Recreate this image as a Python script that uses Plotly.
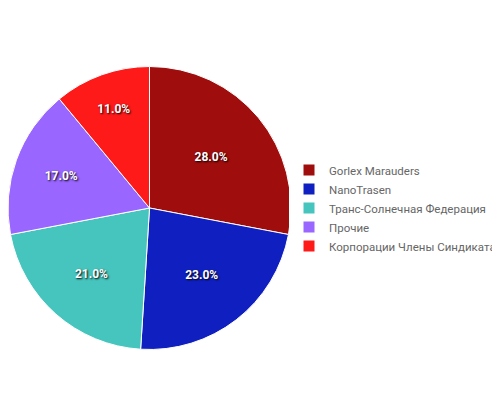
import plotly.graph_objects as go

labels = ["Gorlex Marauders", "NanoTrasen", "Транс-Солнечная Федерация", "Прочие", "Корпорации Члены Синдиката"]
values = [28, 23, 21, 17, 11]
colors = ["#a00d0d", "#1020c0", "#45c5bd", "#9966ff", "#ff1a1a"]

fig = go.Figure(go.Pie(
    labels=labels, values=values, sort=False, direction="clockwise", rotation=0,
    marker=dict(colors=colors, line=dict(color="white", width=1)),
    texttemplate="%{percent:.1%}", textposition="inside", insidetextorientation="horizontal",
    textfont=dict(family="Roboto", size=12, color="white", weight="bold", shadow="1px 1px 2px black"),
    domain=dict(x=[0, 0.566], y=[0.145, 0.855]), hoverinfo="label+percent",
))
fig.update_layout(
    width=500, height=400, margin=dict(l=0, r=0, t=0, b=0),
    paper_bgcolor="white", font=dict(family="Roboto", size=12, color="#666"),
    legend=dict(x=0.562, y=0.5, yanchor="middle", font=dict(size=11.5, color="#666"),
                itemwidth=30, tracegroupgap=0),
)
fig.write_html("out.html")
